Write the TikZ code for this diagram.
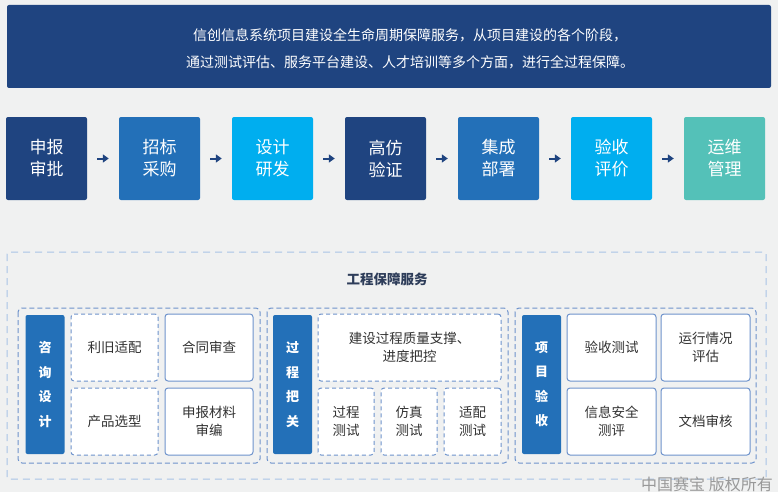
\documentclass[tikz,border=0pt]{standalone}
\usepackage{fontspec}
\setmainfont{Noto Sans CJK SC}
\usetikzlibrary{arrows.meta}
\definecolor{navy}{RGB}{31,68,128}
\definecolor{midblue}{RGB}{35,112,184}
\definecolor{skyblue}{RGB}{0,174,239}
\definecolor{teal}{RGB}{84,193,184}
\definecolor{bggray}{RGB}{240,241,241}
\definecolor{outline}{RGB}{169,195,230}
\definecolor{grpline}{RGB}{110,147,204}
\definecolor{txtgray}{RGB}{50,50,50}
\definecolor{titlecol}{RGB}{46,61,90}
\begin{document}
\begin{tikzpicture}[x=1pt,y=-1pt,
	stage/.style={rounded corners=2pt, minimum width=81pt, minimum height=83pt, inner sep=0pt,
		text=white, align=center, font=\fontsize{17}{22}\selectfont},
	cell/.style={draw=grpline, fill=white, rounded corners=3pt, line width=1pt, inner sep=0pt,
		align=center, text=txtgray, font=\fontsize{13.5}{18.5}\selectfont},
	dcell/.style={cell, dash pattern=on 4pt off 3pt},
	bar/.style={fill=midblue, rounded corners=2pt, minimum width=39pt, minimum height=139pt, inner sep=0pt,
		align=center, text=white, font=\fontsize{13}{24.5}\selectfont\bfseries},
	group/.style={draw=grpline, line width=1pt, dash pattern=on 5pt off 3pt, rounded corners=4pt}]
\fill[bggray] (0,0) rectangle (778,492);
\useasboundingbox (0,0) rectangle (778,492);
% banner
\node[fill=navy, rounded corners=2pt, minimum width=764pt, minimum height=83pt] (head) at (389,46.5) {};
\node[text=white, align=center, font=\fontsize{14}{27}\selectfont] (headtext) at (410,48.5)
	{信创信息系统项目建设全生命周期保障服务，从项目建设的各个阶段，\\通过测试评估、服务平台建设、人才培训等多个方面，进行全过程保障。};
% stages
\foreach \i/\col/\txt in {1/navy/申报\\审批, 2/midblue/招标\\采购, 3/skyblue/设计\\研发, 4/navy/高仿\\验证,
	5/midblue/集成\\部署, 6/skyblue/验收\\评价, 7/teal/运维\\管理}
{
	\node[stage, fill=\col] (s\i) at (46.5+113*\i-113, 158.5) {\txt};
}
\foreach \a/\b in {1/2, 2/3, 3/4, 4/5, 5/6, 6/7}
{
	\draw[navy, line width=2pt, shorten <=10pt, shorten >=10pt, -{Triangle[length=6pt,width=8pt]}] (s\a) -- (s\b);
}
% services
\draw[outline, line width=1pt, dash pattern=on 7pt off 5pt, rounded corners=2pt] (7,252) rectangle (766,479);
\node[text=titlecol, font=\fontsize{13.5}{16}\selectfont\bfseries] (title) at (387,279) {工程保障服务};
\draw[group] (18,308) rectangle (260,463);
\draw[group] (267,308) rectangle (508,463);
\draw[group] (515,308) rectangle (756,463);
\node[bar] (b1) at (45,384.5) {咨\\询\\设\\计};
\node[bar] (b2) at (292.5,384.5) {过\\程\\把\\关};
\node[bar] (b3) at (541.5,384.5) {项\\目\\验\\收};
% consulting
\node[dcell, minimum width=87pt, minimum height=67pt] (c1) at (114.5,347.5) {利旧适配};
\node[cell, minimum width=88pt, minimum height=67pt] (c2) at (209,347.5) {合同审查};
\node[dcell, minimum width=87pt, minimum height=67pt] (c3) at (114.5,421.5) {产品选型};
\node[cell, minimum width=88pt, minimum height=67pt] (c4) at (209,421.5) {申报材料\\审编};
% process
\node[dcell, minimum width=183pt, minimum height=67pt] (p1) at (409.5,347.5) {建设过程质量支撑、\\进度把控};
\node[dcell, minimum width=56pt, minimum height=67pt] (p2) at (346,421.5) {过程\\测试};
\node[dcell, minimum width=56pt, minimum height=67pt] (p3) at (409,421.5) {仿真\\测试};
\node[dcell, minimum width=57pt, minimum height=67pt] (p4) at (472.5,421.5) {适配\\测试};
% acceptance
\node[cell, minimum width=89pt, minimum height=67pt] (a1) at (611.5,347.5) {验收测试};
\node[cell, minimum width=89pt, minimum height=67pt] (a2) at (705.5,347.5) {运行情况\\评估};
\node[cell, minimum width=89pt, minimum height=67pt] (a3) at (611.5,421.5) {信息安全\\测评};
\node[cell, minimum width=89pt, minimum height=67pt] (a4) at (705.5,421.5) {文档审核};
\node[anchor=west, inner sep=0pt, text=black!40, font=\fontsize{16}{17}\selectfont] (mark) at (641,484) {中国赛宝 版权所有};
\end{tikzpicture}
\end{document}
